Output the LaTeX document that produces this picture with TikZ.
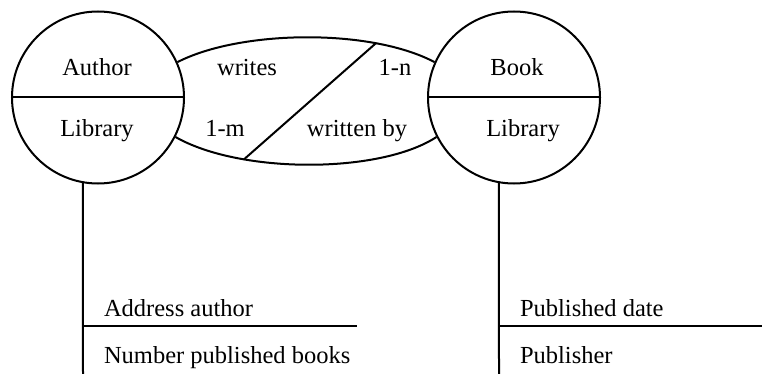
\documentclass[tikz,border=0pt]{standalone}
\usepackage{fontspec}
\setmainfont{Liberation Serif}
\begin{document}
\begin{tikzpicture}[x=1pt,y=-1pt,
  line width=2pt,
  entity/.style={circle,draw,minimum size=172pt,inner sep=0pt},
  lbl/.style={anchor=base,inner sep=0pt,font=\fontsize{24.5}{29}\selectfont},
  attr/.style={anchor=base west,inner sep=0pt,font=\fontsize{24.5}{29}\selectfont}]
\useasboundingbox (0,0) rectangle (762,374);

% entities
\node[entity] (A) at (98,97.5) {};
\node[entity] (B) at (514,97.5) {};
\draw (A.west) -- (A.east);
\draw (B.west) -- (B.east);

\node[lbl] (author) at (97,76) {Author};
\node[lbl] (alib)   at (97,137) {Library};
\node[lbl] (book)   at (517,76) {Book};
\node[lbl] (blib)   at (523,137) {Library};

% relationship lens
\draw (A.24) .. controls (240,30) and (370,28) .. (B.156)
  coordinate[pos=0.75] (rtop);
\draw (A.-27) .. controls (240,174) and (380,174) .. (B.207)
  coordinate[pos=0.28] (rbot);
\draw (rbot) -- (rtop);

\node[lbl] (writes) at (247,76) {writes};
\node[lbl] (onen)   at (395,76) {1-n};
\node[lbl] (onem)   at (225,137) {1-m};
\node[lbl] (wby)    at (357,137) {written by};

% attribute stems
\coordinate (aend) at (83,374);
\coordinate (bend) at (499,374);
\draw (A.-100) -- (aend);
\draw (B.-100) -- (bend);

\coordinate (asep0) at (83,326);
\coordinate (asep1) at (357,326);
\coordinate (bsep0) at (499,326);
\coordinate (bsep1) at (762,326);
\draw (asep0) -- (asep1);
\draw (bsep0) -- (bsep1);

\node[attr] (addr) at (103,316) {Address author};
\node[attr] (nbk)  at (103,363) {Number published books};
\node[attr] (pdate) at (519,316) {Published date};
\node[attr] (pub)  at (519,363) {Publisher};
\end{tikzpicture}
\end{document}
